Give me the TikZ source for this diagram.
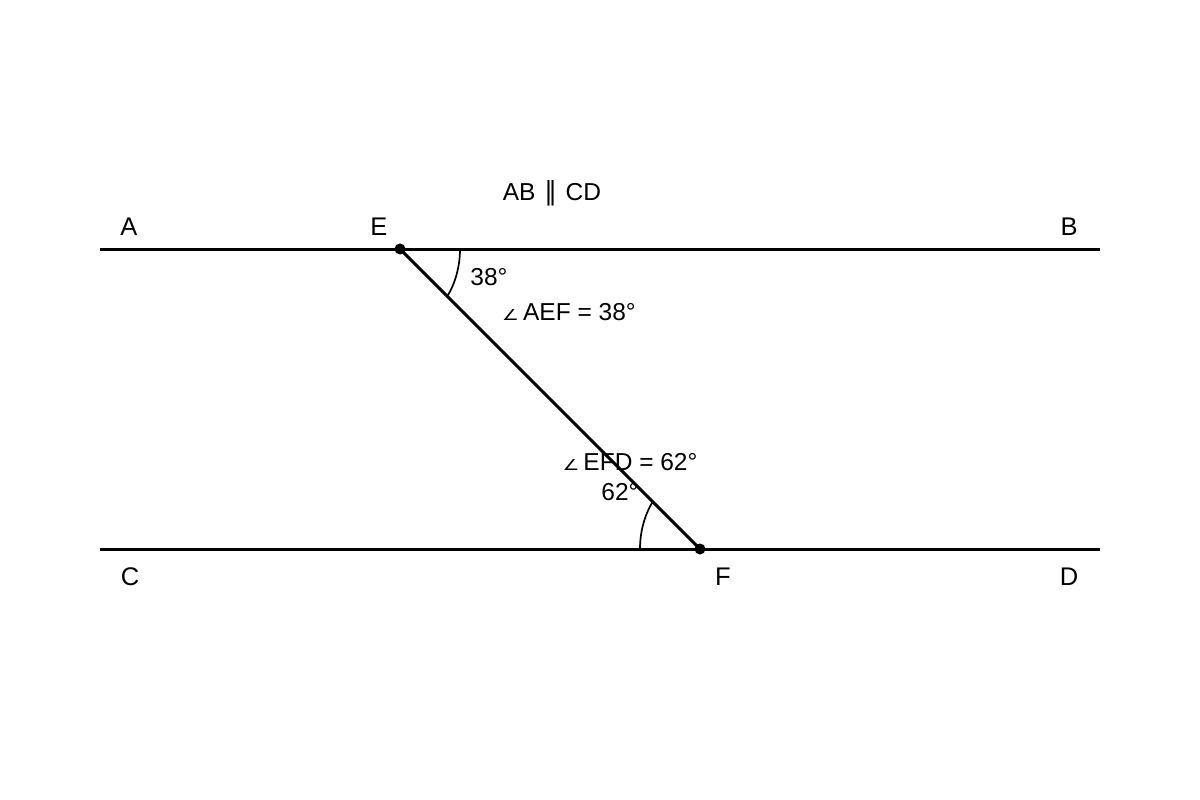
\documentclass[tikz,border=0pt]{standalone}
\usepackage{graphicx}
\usepackage{fontspec}
\setmainfont{Liberation Sans}
\newfontfamily\djsans{DejaVu Sans}
\newcommand{\angsym}{{\djsans\fontsize{15}{15}\selectfont\scalebox{1.25}[1]{∠}}}
\begin{document}
\begin{tikzpicture}[x=1pt,y=-1pt,
  ptlabel/.style={anchor=base,inner sep=0pt,font=\fontsize{25.5}{25.5}\selectfont},
  txtlabel/.style={anchor=base,inner sep=0pt,font=\fontsize{24.5}{24.5}\selectfont},
  mainline/.style={line width=3pt},
  anglemark/.style={line width=1.7pt},
  dot/.style={circle,fill=black,inner sep=0pt,minimum size=11pt}]
\fill[white] (0,0) rectangle (1200,800);
\useasboundingbox (0,0) rectangle (1200,800);
\coordinate (A0) at (100,249);
\coordinate (B0) at (1100,249);
\coordinate (C0) at (100,549);
\coordinate (D0) at (1100,549);
\coordinate (E) at (400,249);
\coordinate (F) at (700,549);
\draw[mainline] (A0) -- (B0);
\draw[mainline] (C0) -- (D0);
\draw[mainline] (E) -- (F);
% angle wedges (elliptical, as in the reference)
\draw[anglemark] (E) -- ++(60,0) arc[start angle=0,end angle=38,x radius=60,y radius=76.8] -- cycle;
\draw[anglemark] (F) -- ++(-60,0) arc[start angle=180,end angle=218,x radius=60,y radius=76.8] -- cycle;
\node[dot] (Edot) at (E) {};
\node[dot] (Fdot) at (F) {};
% labels
\node[ptlabel] (lA) at (129,235) {A};
\node[ptlabel] (lE) at (379,235) {E};
\node[ptlabel] (lB) at (1069,235) {B};
\node[ptlabel] (lC) at (130,585) {C};
\node[ptlabel] (lF) at (723,585) {F};
\node[ptlabel] (lD) at (1069,585) {D};
\node[txtlabel] (par) at (552,200) {AB\hspace{0.35em}{\djsans\fontsize{26}{26}\selectfont ∥}\hspace{0.35em}CD};
\node[txtlabel] (a38) at (489,285) {38°};
\node[txtlabel] (aef) at (569,320) {\angsym\,AEF = 38°};
\node[txtlabel] (efd) at (630,470) {\angsym\,EFD = 62°};
\node[txtlabel] (a62) at (620,500) {62°};
\end{tikzpicture}
\end{document}
